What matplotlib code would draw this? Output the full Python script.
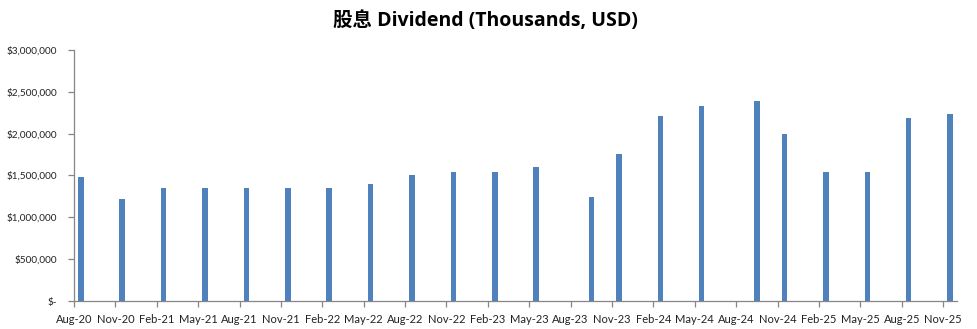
import numpy as np
import pandas as pd
import matplotlib
matplotlib.use("Agg")
import matplotlib.pyplot as plt
from matplotlib.ticker import FuncFormatter

# dividend payments (thousands, USD) by payment month
pay_months = ["2020-08", "2020-11", "2021-02", "2021-05", "2021-08", "2021-11",
              "2022-02", "2022-05", "2022-08", "2022-11", "2023-02", "2023-05",
              "2023-09", "2023-11", "2024-02", "2024-05", "2024-09", "2024-11",
              "2025-02", "2025-05", "2025-08", "2025-11"]
dividends = [1480000, 1220000, 1350000, 1350000, 1350000, 1350000,
             1350000, 1400000, 1500000, 1540000, 1540000, 1600000,
             1240000, 1760000, 2210000, 2330000, 2390000, 2000000,
             1540000, 1540000, 2190000, 2240000]

# quarterly axis labels
axis_start = "2020-08"
axis_end = "2025-12"
tick_months = pd.period_range("2020-08", "2025-11", freq="3M")

start = pd.Period(axis_start, freq="M")
def month_index(p):
    return (pd.Period(p, freq="M") - start).n

x = np.array([month_index(m) for m in pay_months]) + 0.5
ticks = [month_index(str(p)) for p in tick_months]
tick_labels = [p.strftime("%b-%y") for p in tick_months]

fig = plt.figure(figsize=(9.77, 3.29), dpi=100)
ax = fig.add_axes([0.0757, 0.0851, 0.9038, 0.763])

ax.bar(x, dividends, width=0.4, color="#4F81BD")

ax.set_xlim(0, month_index(axis_end))
ax.set_ylim(0, 3000000)
ax.set_yticks(np.arange(0, 3000001, 500000))
ax.yaxis.set_major_formatter(FuncFormatter(lambda v, pos: "$-" if v == 0 else "${:,.0f}".format(v)))
ax.set_xticks(ticks)
ax.set_xticklabels(tick_labels)

for side in ["top", "right"]:
    ax.spines[side].set_visible(False)
for side in ["left", "bottom"]:
    ax.spines[side].set_color("#868686")
    ax.spines[side].set_linewidth(0.9)
ax.tick_params(axis="both", colors="#868686", length=4, width=0.9,
               labelcolor="#222222")
ax.tick_params(axis="x", pad=5, labelsize=8)
ax.tick_params(axis="y", pad=8, labelsize=7.2)
for lbl in ax.get_xticklabels() + ax.get_yticklabels():
    lbl.set_family("Lato")

fig.text(0.497, 0.935, "股息 Dividend (Thousands, USD)", ha="center", va="center",
         fontsize=14, fontweight="bold", family=["Open Sans", "Noto Sans CJK TC"])

fig.savefig("out.png", dpi=100)
